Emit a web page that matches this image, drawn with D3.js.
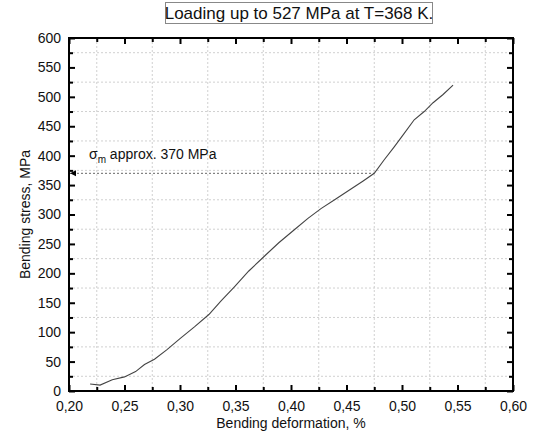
<!DOCTYPE html>
<html>
<head>
<meta charset="utf-8">
<script src="https://cdn.jsdelivr.net/npm/d3@7"></script>
<style>
  body { margin: 0; background: #fff; }
  text { font-family: "Liberation Sans", Arial, sans-serif; fill: #111; }
</style>
</head>
<body>
<div id="chart"></div>
<script>
// curve
var deformation = [0.219, 0.228, 0.239, 0.250, 0.260, 0.268, 0.277, 0.288, 0.300, 0.313,
                   0.326, 0.337, 0.349, 0.362, 0.376, 0.389, 0.403, 0.415, 0.427, 0.440,
                   0.453, 0.465, 0.475, 0.484, 0.493, 0.502, 0.511, 0.520, 0.528, 0.537, 0.546]
var stress = [12, 10, 19, 24, 33, 45, 54, 70, 89, 109,
              130, 153, 177, 204, 229, 252, 274, 293, 310, 326,
              342, 357, 370, 393, 415, 438, 461, 475, 490, 504, 520]

var xMajor = [0.20, 0.25, 0.30, 0.35, 0.40, 0.45, 0.50, 0.55, 0.60]
var xMinor = [0.225, 0.275, 0.325, 0.375, 0.425, 0.475, 0.525, 0.575]
var yMajor = [0, 50, 100, 150, 200, 250, 300, 350, 400, 450, 500, 550, 600]
var yMinor = [25, 75, 125, 175, 225, 275, 325, 375, 425, 475, 525, 575]

var sigmaM = 370
var sigmaX = 0.475

var W = 534, H = 434
var pLeft = 69, pRight = 513, pTop = 38, pBottom = 391

var svg = d3.select('#chart').append('svg')
  .attr('width', W)
  .attr('height', H)

var x = d3.scaleLinear().domain([0.2, 0.6]).range([pLeft, pRight])
var y = d3.scaleLinear().domain([0, 600]).range([pBottom, pTop])

var comma = function (d) { return d3.format('.2f')(d).replace('.', ',') }

// grid (dotted, on the minor positions)
svg.append('g').selectAll('line')
  .data(xMinor).enter().append('line')
  .attr('x1', d => x(d)).attr('x2', d => x(d))
  .attr('y1', pTop).attr('y2', pBottom)
  .attr('stroke', '#d0d0d0').attr('stroke-dasharray', '2,2')
svg.append('g').selectAll('line')
  .data(yMinor).enter().append('line')
  .attr('y1', d => y(d)).attr('y2', d => y(d))
  .attr('x1', pLeft).attr('x2', pRight)
  .attr('stroke', '#d0d0d0').attr('stroke-dasharray', '2,2')

// dashed level line at sigma_m
svg.append('line')
  .attr('x1', pLeft).attr('x2', x(sigmaX))
  .attr('y1', y(sigmaM)).attr('y2', y(sigmaM))
  .attr('stroke', '#666').attr('stroke-dasharray', '2,2')

svg.append('path')
  .attr('d', 'M' + (pLeft + 1) + ',' + y(sigmaM) + 'l6,-3l0,6z')
  .attr('fill', '#000')

// curve
var pts = deformation.map((d, i) => [d, stress[i]])
svg.append('path')
  .datum(pts)
  .attr('fill', 'none')
  .attr('stroke', '#444')
  .attr('stroke-width', 1.1)
  .attr('d', d3.line().x(d => x(d[0])).y(d => y(d[1])))

// axes
function styleAxis (g) {
  g.select('.domain').remove()
  g.selectAll('.tick line').attr('stroke', '#000').attr('stroke-width', 2)
  g.selectAll('.tick text').attr('font-size', 14).attr('fill', '#111')
}

var gb = svg.append('g').attr('transform', 'translate(0,' + pBottom + ')')
gb.call(d3.axisBottom(x).tickValues(xMajor).tickSize(-6).tickPadding(10).tickFormat(comma)).call(styleAxis)
gb.append('g').call(d3.axisBottom(x).tickValues(xMinor).tickSize(-4).tickFormat('')).call(styleAxis)

var gt = svg.append('g').attr('transform', 'translate(0,' + pTop + ')')
gt.call(d3.axisTop(x).tickValues(xMajor).tickSize(-6).tickFormat('')).call(styleAxis)
gt.append('g').call(d3.axisTop(x).tickValues(xMinor).tickSize(-4).tickFormat('')).call(styleAxis)

var gl = svg.append('g').attr('transform', 'translate(' + pLeft + ',0)')
gl.call(d3.axisLeft(y).tickValues(yMajor).tickSize(-6).tickPadding(8)).call(styleAxis)
gl.append('g').call(d3.axisLeft(y).tickValues(yMinor).tickSize(-4).tickFormat('')).call(styleAxis)

var gr = svg.append('g').attr('transform', 'translate(' + pRight + ',0)')
gr.call(d3.axisRight(y).tickValues(yMajor).tickSize(-6).tickFormat('')).call(styleAxis)
gr.append('g').call(d3.axisRight(y).tickValues(yMinor).tickSize(-4).tickFormat('')).call(styleAxis)

// frame
svg.append('rect')
  .attr('x', pLeft).attr('y', pTop)
  .attr('width', pRight - pLeft).attr('height', pBottom - pTop)
  .attr('fill', 'none').attr('stroke', '#000').attr('stroke-width', 2)

// annotation
var ann = svg.append('text')
  .attr('x', 89).attr('y', y(sigmaM) - 14)
  .attr('font-size', 14)
ann.append('tspan').text('σ')
ann.append('tspan').attr('font-size', 10).attr('dy', 4).text('m')
ann.append('tspan').attr('dy', -4).text(' approx. 370 MPa')

// axis titles
svg.append('text')
  .attr('x', (pLeft + pRight) / 2).attr('y', 428)
  .attr('text-anchor', 'middle').attr('font-size', 14)
  .text('Bending deformation, %')

svg.append('text')
  .attr('transform', 'translate(25,' + ((pTop + pBottom) / 2) + ') rotate(-90)')
  .attr('text-anchor', 'middle').attr('dy', '0.35em').attr('font-size', 14)
  .text('Bending stress, MPa')

// title box
svg.append('rect')
  .attr('x', 165.5).attr('y', 2.5).attr('width', 267).attr('height', 21)
  .attr('fill', '#fff').attr('stroke', '#888')
svg.append('text')
  .attr('x', 299).attr('y', 19)
  .attr('text-anchor', 'middle').attr('font-size', 17)
  .text('Loading up to 527 MPa at T=368 K.')
</script>
</body>
</html>
